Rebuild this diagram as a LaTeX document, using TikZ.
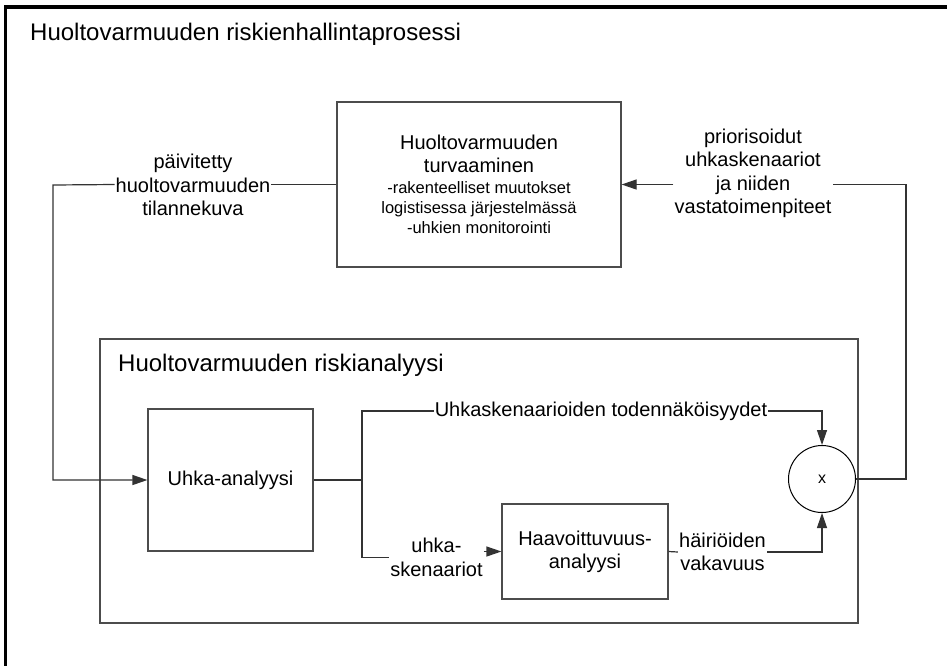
\documentclass[tikz,border=0pt]{standalone}
\usepackage{fontspec}
\setmainfont{Liberation Sans}
\usetikzlibrary{arrows.meta}
\begin{document}
\begin{tikzpicture}[x=1pt,y=-1pt,
  box/.style={draw=black!70,line width=1.2pt,inner sep=0pt,align=center,font=\fontsize{20}{23}\selectfont},
  conn/.style={draw=black!80,line width=1.2pt},
  arr/.style={conn,-{Triangle[length=15pt,width=10pt]}},
  lbl/.style={inner sep=1pt,align=center,font=\fontsize{20}{23.5}\selectfont},
  ttl/.style={inner sep=0pt,anchor=base west,font=\fontsize{24}{28}\selectfont}]
\useasboundingbox (0,0) rectangle (947,665);
\fill[white] (0,0) rectangle (947,665);
\node[draw=black,line width=3.5pt,outer sep=0pt,inner sep=0pt,minimum width=1000pt,minimum height=700pt,anchor=north west] (frame) at (5.5,7) {};
\node[ttl] (title) at (30,40) {Huoltovarmuuden riskienhallintaprosessi};

\node[box,minimum width=284pt,minimum height=165pt,font=\fontsize{16.5}{20}\selectfont] (turva) at (479,184.5)
  {{\fontsize{20}{23}\selectfont Huoltovarmuuden}\\[3pt]
   {\fontsize{20}{23}\selectfont turvaaminen}\\[1pt]
   -rakenteelliset muutokset\\
   logistisessa järjestelmässä\\
   -uhkien monitorointi};

\node[box,minimum width=758pt,minimum height=284pt] (risk) at (479,481) {};
\node[ttl] (risktitle) at (118,371.5) {Huoltovarmuuden riskianalyysi};

\node[box,minimum width=165pt,minimum height=142pt] (uhka) at (230.5,480) {Uhka-analyysi};
\node[box,minimum width=166pt,minimum height=95pt] (haav) at (585,551.5) {Haavoittuvuus-\\analyysi};
\node[draw=black,line width=1pt,circle,minimum size=67pt,inner sep=0pt,font=\fontsize{16}{18}\selectfont] (mul) at (822,479) {x};

\node[lbl] (lblA) at (193,185) {päivitetty\\huoltovarmuuden\\tilannekuva};
\node[lbl] (lblB) at (753,173.5) {priorisoidut\\uhkaskenaariot\\ja niiden\\vastatoimenpiteet};
\node[lbl] (lblT) at (601,411) {Uhkaskenaarioiden todennäköisyydet};
\node[lbl] (lblU) at (436.5,557.5) {uhka-\\skenaariot};
\node[lbl] (lblH) at (722.5,552) {häiriöiden\\vakavuus};

\coordinate (jn) at (362,480);
\coordinate (loopL) at (53,185);
\coordinate (loopR) at (906,479);

\draw[conn] (turva.west) -- (lblA.east |- turva.west);
\draw[arr] (lblA.west |- turva.west) -- (loopL) |- (uhka.west);
\draw[conn] (uhka.east) -- (jn);
\draw[conn] (lblT.west) -| (jn) |- (lblU.west);
\draw[arr] (lblU.east |- haav.west) -- (haav.west);
\draw[arr] (lblT.east) -| (mul.north);
\draw[conn] (haav.east) -- (lblH.west);
\draw[arr] (lblH.east) -| (mul.south);
\draw[conn] (mul.east) -- (loopR) |- (lblB.east |- turva.east);
\draw[arr] (lblB.west |- turva.east) -- (turva.east);
\end{tikzpicture}
\end{document}
